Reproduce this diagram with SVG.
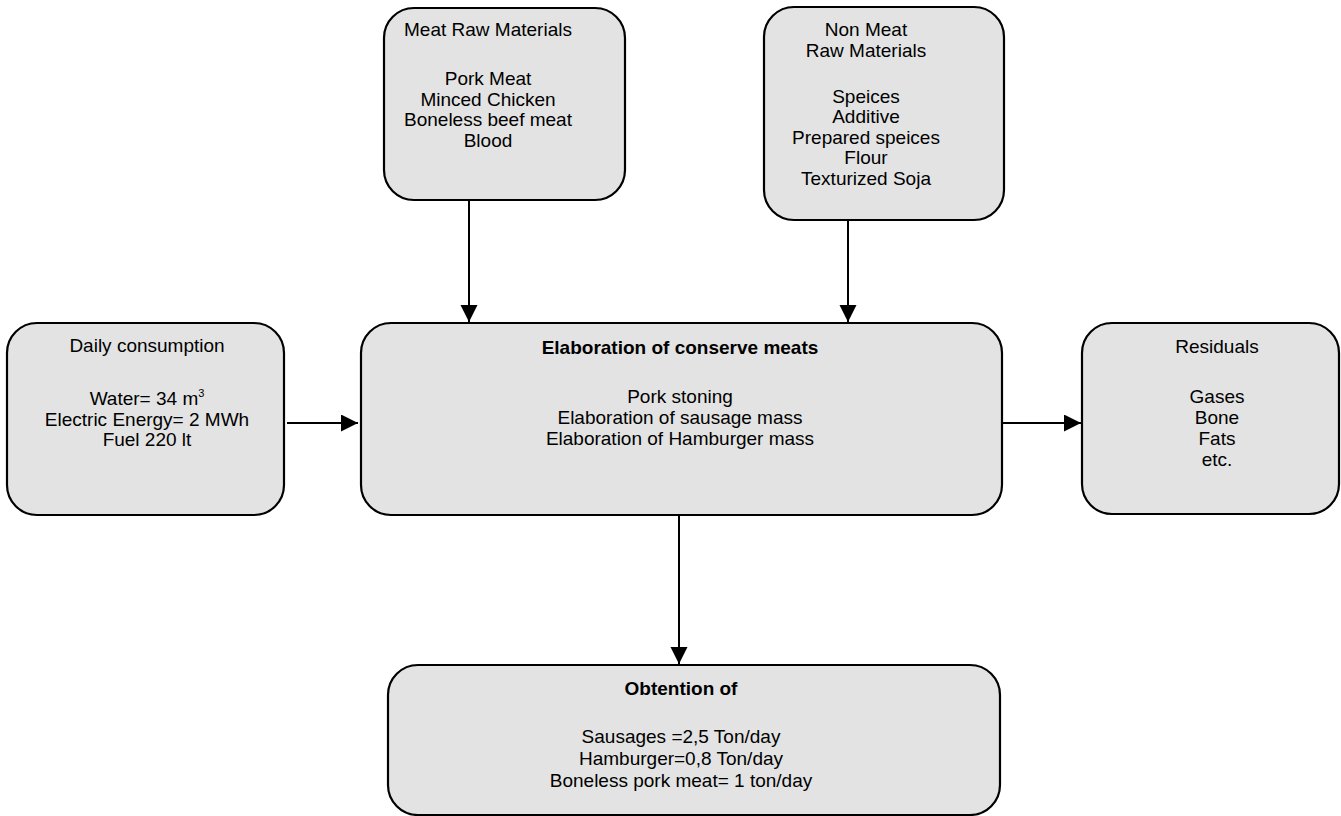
<svg xmlns="http://www.w3.org/2000/svg" width="1341" height="816" viewBox="0 0 1341 816">
<style>
.box{fill:#e3e3e3;stroke:#000;stroke-width:2.2}
text{font-family:"Liberation Sans",Arial,sans-serif;font-size:19px;fill:#000;text-anchor:middle}
.b{font-weight:bold}
.conn line{stroke:#000;stroke-width:2}
</style>
<defs>
<marker id="ah" markerWidth="18" markerHeight="18" refX="17" refY="8.5" orient="auto" markerUnits="userSpaceOnUse">
<path d="M0,0 L17,8.5 L0,17 Z" fill="#000"/>
</marker>
</defs>
<rect width="1341" height="816" fill="#fff"/>
<g id="meat">
<rect class="box" x="384" y="8" width="241" height="192" rx="30"/>
<text x="488" y="36">Meat Raw Materials</text>
<text x="488" y="85">Pork Meat</text>
<text x="488" y="106">Minced Chicken</text>
<text x="488" y="126">Boneless beef meat</text>
<text x="488" y="147">Blood</text>
</g>
<g id="nonmeat">
<rect class="box" x="764" y="7" width="240" height="213" rx="30"/>
<text x="866" y="36">Non Meat</text>
<text x="866" y="57">Raw Materials</text>
<text x="866" y="103">Speices</text>
<text x="866" y="123">Additive</text>
<text x="866" y="144">Prepared speices</text>
<text x="866" y="164">Flour</text>
<text x="866" y="185">Texturized Soja</text>
</g>
<g id="daily">
<rect class="box" x="7" y="323" width="277" height="192" rx="30"/>
<text x="147" y="352">Daily consumption</text>
<text x="147" y="405">Water= 34 m<tspan font-size="11" dy="-8">3</tspan></text>
<text x="147" y="426">Electric Energy= 2 MWh</text>
<text x="147" y="446">Fuel 220 lt</text>
</g>
<g id="elaboration">
<rect class="box" x="361" y="323" width="641" height="192" rx="30"/>
<text class="b" x="680" y="354">Elaboration of conserve meats</text>
<text x="680" y="403">Pork stoning</text>
<text x="680" y="424">Elaboration of sausage mass</text>
<text x="680" y="445">Elaboration of Hamburger mass</text>
</g>
<g id="residuals">
<rect class="box" x="1082" y="323" width="257" height="191" rx="30"/>
<text x="1217" y="353">Residuals</text>
<text x="1217" y="403">Gases</text>
<text x="1217" y="424">Bone</text>
<text x="1217" y="445">Fats</text>
<text x="1217" y="466">etc.</text>
</g>
<g id="obtention">
<rect class="box" x="388" y="665" width="612" height="150" rx="30"/>
<text class="b" x="681" y="695">Obtention of</text>
<text x="681" y="743">Sausages =2,5 Ton/day</text>
<text x="681" y="765">Hamburger=0,8 Ton/day</text>
<text x="681" y="787">Boneless pork meat= 1 ton/day</text>
</g>
<g class="conn" id="connectors">
<line x1="469" y1="200" x2="469" y2="322" marker-end="url(#ah)"/>
<line x1="848" y1="220" x2="848" y2="322" marker-end="url(#ah)"/>
<line x1="287" y1="423" x2="358" y2="423" marker-end="url(#ah)"/>
<line x1="1003" y1="423" x2="1081" y2="423" marker-end="url(#ah)"/>
<line x1="679" y1="515" x2="679" y2="664" marker-end="url(#ah)"/>
</g>
</svg>
